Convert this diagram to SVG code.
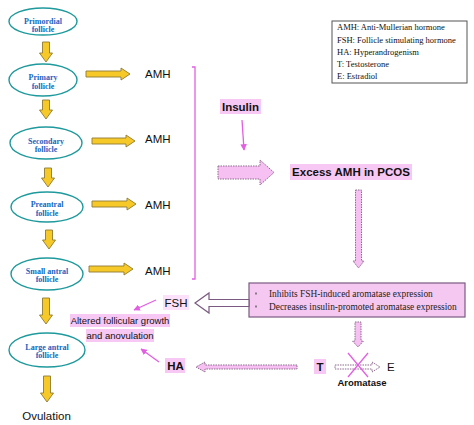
<svg xmlns="http://www.w3.org/2000/svg" width="474" height="425" viewBox="0 0 474 425">
<defs>
<style>
.fol{fill:#fff;stroke:#1f9a9c;stroke-width:1.4}
.ft{font-family:"Liberation Serif",serif;font-weight:bold;font-size:8px;fill:#1565c0;text-anchor:middle}
.ya{fill:#f7c928;stroke:#8c7a36;stroke-width:0.9}
.amh{font-family:"Liberation Sans",Arial,sans-serif;font-size:11.5px;fill:#111}
.sans{font-family:"Liberation Sans",Arial,sans-serif;fill:#111}
.b{font-weight:bold}
.hl{fill:#f7c8f4}
.mg{stroke:#e25fe2;stroke-width:1.3;fill:none}
.da{fill:#f7c0f2;stroke:#8a6a8a;stroke-width:1;stroke-dasharray:1.5,1}
.dw{fill:#fff;stroke:#8a6a8a;stroke-width:1;stroke-dasharray:1.5,1}
.leg{font-family:"Liberation Serif",serif;font-size:8.5px;fill:#111}
.bx{font-family:"Liberation Serif",serif;font-size:9.4px;fill:#222}
</style>
<marker id="mh" viewBox="0 0 10 10" refX="9" refY="5" markerWidth="5" markerHeight="5" orient="auto">
<path d="M0 0 L10 5 L0 10 Z" fill="#e25fe2"/>
</marker>
</defs>
<rect width="474" height="425" fill="#fff"/>

<g id="primordial"><ellipse class="fol" cx="43" cy="21.5" rx="34" ry="13.5"/><text class="ft" x="43" y="23.5">Primordial</text><text class="ft" x="43" y="31.5">follicle</text></g>
<g id="primary"><ellipse class="fol" cx="43" cy="80" rx="34" ry="16"/><text class="ft" x="43" y="80">Primary</text><text class="ft" x="43" y="89">follicle</text></g>
<g id="secondary"><ellipse class="fol" cx="46" cy="143" rx="36" ry="16"/><text class="ft" x="46" y="144">Secondary</text><text class="ft" x="46" y="152">follicle</text></g>
<g id="preantral"><ellipse class="fol" cx="47" cy="207" rx="36" ry="15"/><text class="ft" x="47" y="207">Preantral</text><text class="ft" x="47" y="215.5">follicle</text></g>
<g id="smallantral"><ellipse class="fol" cx="47" cy="274" rx="36" ry="16"/><text class="ft" x="47" y="274">Small antral</text><text class="ft" x="47" y="282">follicle</text></g>
<g id="largeantral"><ellipse class="fol" cx="47" cy="350" rx="38" ry="17"/><text class="ft" x="47" y="350">Large antral</text><text class="ft" x="47" y="358">follicle</text></g>
<g id="ovulation"><text class="amh" x="46.5" y="420" text-anchor="middle">Ovulation</text></g>

<g id="amh1"><text class="amh" x="145" y="78">AMH</text></g>
<g id="amh2"><text class="amh" x="145" y="143">AMH</text></g>
<g id="amh3"><text class="amh" x="145" y="209">AMH</text></g>
<g id="amh4"><text class="amh" x="145" y="275">AMH</text></g>

<g id="legend">
<rect x="332" y="21" width="135" height="62" fill="#fff" stroke="#555" stroke-width="1"/>
<text class="leg" x="337" y="30">AMH: Anti-Mullerian hormone</text>
<text class="leg" x="337" y="42.5">FSH: Follicle stimulating hormone</text>
<text class="leg" x="337" y="55">HA: Hyperandrogenism</text>
<text class="leg" x="337" y="66.5">T: Testosterone</text>
<text class="leg" x="337" y="79">E: Estradiol</text>
</g>

<g id="insulin"><rect class="hl" x="220" y="99" width="41" height="15"/><text class="sans b" x="240.5" y="111" font-size="11.5" text-anchor="middle">Insulin</text></g>
<g id="excess"><rect class="hl" x="290" y="164" width="122" height="16"/><text class="sans b" x="351" y="176" font-size="11.5" text-anchor="middle">Excess AMH in PCOS</text></g>
<g id="effects">
<rect x="249" y="283" width="216" height="34" fill="#f5c8f2" stroke="#7a5a80" stroke-width="1.2"/>
<rect x="255" y="292.5" width="2" height="2" fill="#8a7a8a"/>
<rect x="255" y="305.5" width="2" height="2" fill="#8a7a8a"/>
<text class="bx" x="269" y="297">Inhibits FSH-induced aromatase expression</text>
<text class="bx" x="269" y="310">Decreases insulin-promoted aromatase expression</text>
</g>
<g id="fsh"><rect x="163" y="295" width="26" height="15" fill="#fbe2fa"/><text class="sans" x="176" y="307" font-size="11.5" text-anchor="middle">FSH</text></g>
<g id="altered">
<rect class="hl" x="70" y="314" width="100" height="13"/>
<rect class="hl" x="86" y="329" width="68" height="13"/>
<text class="sans" x="120" y="323.5" font-size="9.5" text-anchor="middle">Altered follicular growth</text>
<text class="sans" x="120" y="338.5" font-size="9.5" text-anchor="middle">and anovulation</text>
</g>
<g id="ha"><rect class="hl" x="165" y="358" width="20" height="15"/><text class="sans b" x="175.5" y="370" font-size="11.5" text-anchor="middle">HA</text></g>
<g id="t"><rect class="hl" x="314" y="359" width="12" height="15"/><text class="sans b" x="320" y="371" font-size="11.5" text-anchor="middle">T</text></g>
<g id="e"><text class="sans" x="387" y="371" font-size="11.5">E</text></g>
<g id="aromatase"><text class="sans b" x="362" y="386" font-size="9.5" text-anchor="middle">Aromatase</text></g>

<g id="connectors">
<path class="ya" d="M42.5 42 H49.5 V53 H52.5 L46 62 L39.5 53 H42.5 Z"/>
<path class="ya" d="M42.5 100 H49.5 V110 H52.5 L46 119 L39.5 110 H42.5 Z"/>
<path class="ya" d="M44.5 168 H51.5 V178 H54.5 L48 187 L41.5 178 H44.5 Z"/>
<path class="ya" d="M45.5 230 H52.5 V240 H55.5 L49 249 L42.5 240 H45.5 Z"/>
<path class="ya" d="M42.5 298 H49.5 V315 H52.5 L46 324 L39.5 315 H42.5 Z"/>
<path class="ya" d="M43.5 376 H50.5 V393 H53.5 L47 402 L40.5 393 H43.5 Z"/>
<path class="ya" d="M86 71 H121 V68 L130 74 L121 80 V77 H86 Z"/>
<path class="ya" d="M92 138 H126 V135 L135 141 L126 147 V144 H92 Z"/>
<path class="ya" d="M92 201 H127 V198 L136 204 L127 210 V207 H92 Z"/>
<path class="ya" d="M89 266 H124 V263 L133 269 L124 275 V272 H89 Z"/>
<path class="mg" d="M192 67 H195 V279 H192" stroke-width="1.5"/>
<line class="mg" x1="242" y1="120" x2="244" y2="150" marker-end="url(#mh)"/>
<path class="da" d="M218 166 H260 V160 L274 172.5 L260 185 V179 H218 Z"/>
<path class="da" d="M355.5 190 H361.5 V261 H364 L358.5 268 L353 261 H355.5 Z"/>
<path d="M195 303 L209 293 V299.5 H249 V306.5 H209 V313 Z" fill="#fff" stroke="#7a5a80" stroke-width="1.2"/>
<line class="mg" x1="156" y1="300" x2="134" y2="310" marker-end="url(#mh)"/>
<line class="mg" x1="159" y1="362" x2="141" y2="349" marker-end="url(#mh)"/>
<path class="da" d="M355 322 H361 V341 H363.5 L358 347 L352.5 341 H355 Z"/>
<path class="da" d="M297 365 H205 V362 L196 367 L205 372 V369 H297 Z"/>
<path class="dw" d="M335 365 H372 V362 L380 367 L372 372 V369 H335 Z"/>
<line class="mg" x1="348" y1="353" x2="368" y2="377"/>
<line class="mg" x1="368" y1="353" x2="348" y2="377"/>
</g>
</svg>
